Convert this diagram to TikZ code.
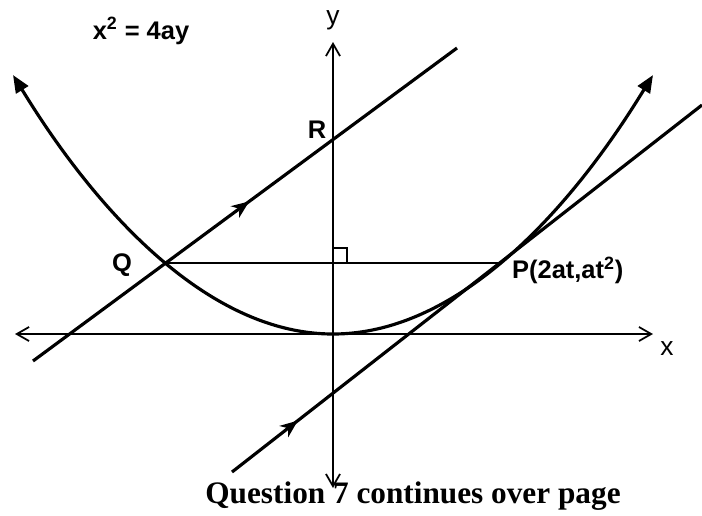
\documentclass[tikz,border=0pt]{standalone}
\usepackage{fontspec}
\setmainfont{Liberation Serif}
\setsansfont{Liberation Sans}
\usepackage{tikz}
\usetikzlibrary{arrows.meta,positioning,calc,decorations.markings}
\tikzset{
  curve/.style={line width=1.8pt, black},
  axis/.style={line width=1pt, black, {Straight Barb[length=7pt,width=8pt]}-{Straight Barb[length=7pt,width=8pt]}},
  chord/.style={line width=1.4pt, black},
  lbl/.style={font=\sffamily\bfseries\fontsize{14.5}{16}\selectfont, inner sep=1pt},
  axlbl/.style={font=\sffamily\fontsize{15}{17}\selectfont, inner sep=1pt},
  midarr/.style={postaction={decorate}, decoration={markings,
    mark=at position #1 with {\arrow{Stealth[length=10pt,width=8pt,inset=3pt]}}}},
}

\begin{document}
\begin{tikzpicture}[x=0.02cm, y=-0.02cm]
  \useasboundingbox (0,0) rectangle (702,515);
  % axes and points
  \coordinate (O) at (333,334);
  \coordinate (yTop) at (333,42);
  \coordinate (yBot) at (333,488);
  \coordinate (xL) at (15,334);
  \coordinate (xR) at (653,334);
  \coordinate (Q) at (165,263);
  \coordinate (P) at (500,263);
  \coordinate (R) at (333,139);
  \coordinate (H) at (333,263);
  \coordinate (QRa) at (33,361);
  \coordinate (QRb) at (457,48);
  \coordinate (Ta) at (232,472);
  \coordinate (Tb) at (702,105);
  \coordinate (PL) at (13,75);
  \coordinate (PR) at (653,75);
  \draw[axis] (xL) -- (xR);
  \draw[axis] (yBot) -- (yTop);
  % parabola
  \draw[curve, {Triangle[length=10pt,width=8pt]}-{Triangle[length=10pt,width=8pt]}]
    (PL) parabola bend (O) (PR);
  \draw[chord] (Q) -- (P);
  \draw[line width=1pt] (H) ++(0,-15) -| ++(14,15);
  \draw[curve, midarr=0.51] (QRa) -- (QRb);
  \draw[curve, midarr=0.14] (Ta) -- (Tb);
  % labels
  \node[lbl] (eq) at (141,31) {x\textsuperscript{2} = 4ay};
  \node[axlbl] (ylab) at (333,20) {y};
  \node[axlbl] (xlab) at (667,349) {x};
  \node[lbl] (Rlab) at (317,130) {R};
  \node[lbl] (Qlab) at (122,265) {Q};
  \node[lbl, anchor=west] (Plab) at (510,270) {P(2at,at\textsuperscript{2})};
  \node[font=\bfseries\fontsize{17.8}{20}\selectfont, inner sep=0pt] (note) at (413,496)
    {Question 7 continues over page};
\end{tikzpicture}
\end{document}
